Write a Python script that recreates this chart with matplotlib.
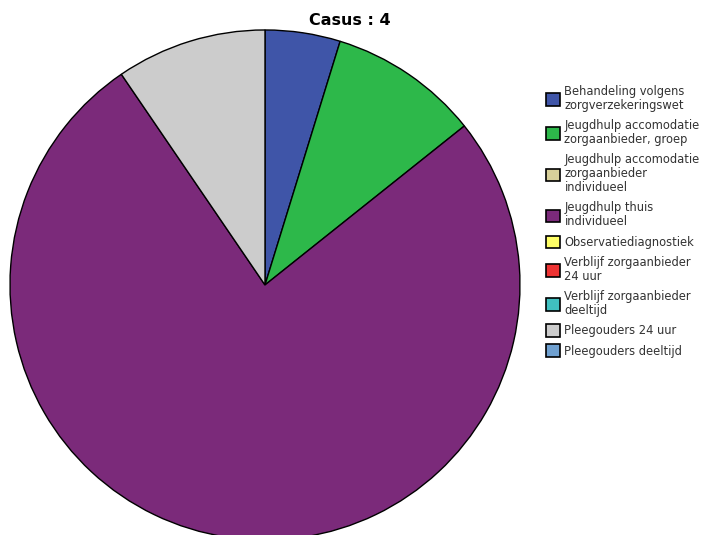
import matplotlib.pyplot as plt
from matplotlib.patches import Patch

# ------------------ DATA ------------------
labels = [
    "Behandeling volgens\nzorgverzekeringswet",
    "Jeugdhulp accomodatie\nzorgaanbieder, groep",
    "Jeugdhulp accomodatie\nzorgaanbieder\nindividueel",
    "Jeugdhulp thuis\nindividueel",
    "Observatiediagnostiek",
    "Verblijf zorgaanbieder\n24 uur",
    "Verblijf zorgaanbieder\ndeeltijd",
    "Pleegouders 24 uur",
    "Pleegouders deeltijd",
]
counts = [1, 2, 0, 16, 0, 0, 0, 2, 0]
colors = ["#3F55A8", "#2DB84A", "#D8D09A", "#7B2A7A", "#FFFF66",
          "#EE3333", "#40C0C0", "#CCCCCC", "#6FA0D0"]

# ------------------ FIGURE ------------------
fig = plt.figure(figsize=(7.09, 5.35), dpi=100)
ax = fig.add_axes([0.0141, -0.0093, 0.7193, 0.9533])

vals = [c for c in counts if c > 0]
cols = [col for c, col in zip(counts, colors) if c > 0]
ax.pie(vals, colors=cols, startangle=90, counterclock=False,
       wedgeprops=dict(edgecolor="black", linewidth=1.0))
ax.set_xlim(-1.0, 1.0)
ax.set_ylim(-1.0, 1.0)
ax.set_aspect("equal")

fig.text(0.494, 0.962, "Casus : 4", ha="center", va="center",
         fontsize=11.5, fontweight="bold")

handles = [Patch(facecolor=c, edgecolor="black", linewidth=1.2) for c in colors]
leg = fig.legend(handles, labels, loc="upper left",
                 bbox_to_anchor=(0.762, 0.852), frameon=False,
                 prop=dict(size=8.3), handlelength=1.2, handleheight=1.3,
                 handletextpad=0.4, labelspacing=0.62, borderpad=0)
for t in leg.get_texts():
    t.set_color("#333333")
    t.set_linespacing(1.1)

fig.savefig("out.png", dpi=100)
